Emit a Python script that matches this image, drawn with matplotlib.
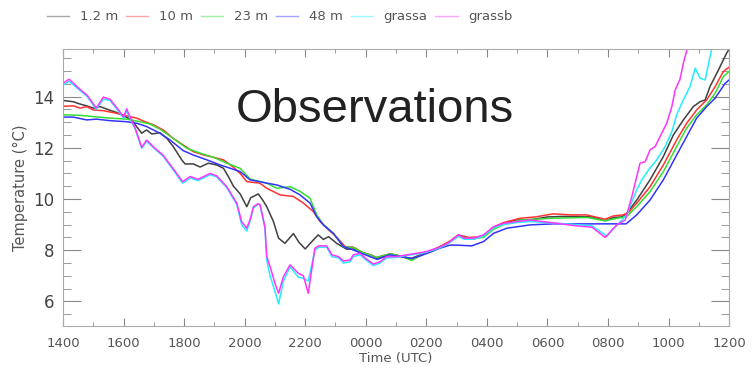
import matplotlib
matplotlib.use('Agg')
import matplotlib.pyplot as plt
from matplotlib.lines import Line2D
from matplotlib.ticker import MultipleLocator

# hours since 1400 UTC
t_12 = [0, 0.07, 0.34, 0.56, 0.78, 1.0, 1.22, 1.45, 1.77, 2.05, 2.27, 2.43, 2.6, 2.76, 2.93, 3.2,
        3.43, 3.64, 3.92, 4.03, 4.3, 4.53, 4.8, 5.08, 5.3, 5.46, 5.63, 5.85, 6.07, 6.2, 6.45, 6.6,
        6.73, 6.95, 7.12, 7.33, 7.61, 7.8, 8.0, 8.22, 8.43, 8.6, 8.77, 9.04, 9.37, 9.6, 9.92, 10.2,
        10.4, 10.6, 10.8, 11.1, 11.5, 11.8, 12.1, 12.45, 12.78, 13.06, 13.3, 13.6, 13.9, 14.2,
        14.55, 15.0, 15.5, 16.0, 16.5, 17.0, 17.5, 17.9, 18.2, 18.45, 18.62, 18.95, 19.39, 19.83,
        20.16, 20.49, 20.82, 21.04, 21.21, 21.37, 21.65, 21.92, 22.0]
T_12 = [13.85, 13.84, 13.8, 13.71, 13.64, 13.55, 13.61, 13.51, 13.38, 13.22, 13.09, 12.83, 12.57,
        12.7, 12.54, 12.59, 12.37, 12.05, 11.53, 11.37, 11.37, 11.25, 11.4, 11.33, 11.2, 10.88,
        10.5, 10.2, 9.7, 10.05, 10.2, 9.95, 9.7, 9.12, 8.47, 8.27, 8.65, 8.3, 8.05, 8.34, 8.6,
        8.42, 8.53, 8.27, 8.04, 8.05, 7.9, 7.8, 7.65, 7.75, 7.85, 7.78, 7.68, 7.82, 7.95, 8.14,
        8.34, 8.58, 8.47, 8.45, 8.55, 8.88, 9.05, 9.18, 9.2, 9.3, 9.32, 9.32, 9.3, 9.15, 9.28,
        9.3, 9.44, 9.96, 10.75, 11.66, 12.5, 13.09, 13.61, 13.8, 13.87, 14.39, 15.04, 15.7, 15.85]

t_10 = [0, 0.34, 0.56, 0.78, 1.0, 1.33, 1.77, 2.1, 2.43, 2.71, 2.98, 3.31, 3.64, 3.97, 4.3, 4.64,
        4.97, 5.3, 5.63, 5.85, 6.07, 6.5, 6.73, 7.17, 7.61, 7.94, 8.27, 8.49, 8.71, 9.04, 9.32,
        9.59, 9.92, 10.36, 10.8, 11.13, 11.52, 11.8, 12.12, 12.45, 12.78, 13.06, 13.4, 13.89,
        14.22, 14.55, 15.1, 15.6, 16.2, 16.8, 17.3, 17.9, 18.18, 18.51, 18.7, 18.95, 19.39,
        19.83, 20.27, 20.6, 20.93, 21.26, 21.54, 21.81, 22.0]
T_10 = [13.62, 13.64, 13.55, 13.61, 13.48, 13.45, 13.35, 13.25, 13.16, 13.02, 12.9, 12.7, 12.37,
        12.11, 11.85, 11.72, 11.63, 11.53, 11.24, 11.0, 10.68, 10.62, 10.42, 10.16, 10.1, 9.84,
        9.51, 9.12, 8.86, 8.51, 8.14, 8.12, 7.9, 7.72, 7.86, 7.78, 7.66, 7.8, 7.95, 8.14, 8.36,
        8.6, 8.5, 8.53, 8.9, 9.08, 9.25, 9.3, 9.42, 9.38, 9.38, 9.21, 9.34, 9.38, 9.5, 9.84,
        10.48, 11.33, 12.31, 12.96, 13.48, 13.87, 14.39, 14.98, 15.15]

t_23 = [0, 0.56, 1.0, 1.56, 2.1, 2.54, 2.87, 3.2, 3.64, 4.09, 4.53, 4.97, 5.41, 5.85, 6.18, 6.73,
        7.06, 7.5, 7.83, 8.16, 8.38, 8.6, 8.93, 9.26, 9.59, 9.92, 10.36, 10.8, 11.13, 11.52,
        11.8, 12.12, 12.45, 12.78, 13.06, 13.4, 13.89, 14.22, 14.55, 15.1, 16.2, 17.3, 17.9,
        18.3, 18.6, 18.95, 19.39, 19.83, 20.27, 20.6, 20.93, 21.26, 21.54, 21.81, 22.0]
T_23 = [13.29, 13.27, 13.22, 13.16, 13.12, 13.02, 12.93, 12.73, 12.37, 11.98, 11.79, 11.63, 11.4,
        11.2, 10.78, 10.62, 10.42, 10.48, 10.3, 10.03, 9.38, 9.0, 8.66, 8.14, 8.1, 7.9, 7.72,
        7.86, 7.78, 7.6, 7.78, 7.95, 8.12, 8.32, 8.55, 8.45, 8.5, 8.82, 9.0, 9.18, 9.25, 9.28,
        9.15, 9.25, 9.3, 9.7, 10.29, 11.07, 12.05, 12.77, 13.29, 13.68, 14.13, 14.78, 14.98]

t_48 = [0, 0.34, 0.78, 1.1, 1.56, 2.1, 2.43, 2.76, 3.2, 3.53, 3.97, 4.3, 4.75, 5.19, 5.63, 5.85,
        6.18, 6.73, 7.06, 7.5, 7.83, 8.16, 8.38, 8.6, 8.93, 9.26, 9.59, 9.92, 10.36, 10.8, 11.13,
        11.52, 11.8, 12.12, 12.45, 12.78, 13.0, 13.5, 13.89, 14.22, 14.66, 15.43, 16.2, 17.3,
        18.0, 18.6, 18.95, 19.39, 19.83, 20.27, 20.6, 20.93, 21.26, 21.54, 21.87, 22.0]
T_48 = [13.2, 13.2, 13.09, 13.12, 13.06, 13.02, 12.96, 12.83, 12.57, 12.31, 11.89, 11.72, 11.53,
        11.33, 11.16, 11.07, 10.75, 10.62, 10.55, 10.38, 10.16, 9.84, 9.31, 8.99, 8.66, 8.14,
        8.01, 7.85, 7.65, 7.82, 7.75, 7.68, 7.78, 7.92, 8.08, 8.2, 8.2, 8.17, 8.34, 8.66, 8.86,
        8.99, 9.03, 9.03, 9.03, 9.03, 9.38, 9.96, 10.75, 11.72, 12.44, 13.16, 13.61, 13.94,
        14.52, 14.65]

t_gb = [0, 0.2, 0.5, 0.8, 1.1, 1.33, 1.55, 1.85, 2.0, 2.1, 2.38, 2.6, 2.76, 3.04, 3.3, 3.63, 3.95,
        4.2, 4.46, 4.86, 5.08, 5.41, 5.74, 5.9, 6.07, 6.18, 6.29, 6.45, 6.51, 6.67, 6.73, 6.84,
        7.0, 7.12, 7.28, 7.5, 7.77, 7.94, 8.1, 8.32, 8.45, 8.71, 8.88, 9.1, 9.26, 9.48, 9.59,
        9.81, 10.03, 10.25, 10.47, 10.69, 11.02, 11.35, 11.68, 12.0, 12.35, 12.68, 13.06, 13.25,
        13.56, 13.89, 14.22, 14.55, 14.99, 15.43, 16.0, 16.97, 17.47, 17.91, 18.29, 18.57,
        18.79, 18.95, 19.06, 19.23, 19.39, 19.56, 19.72, 19.94, 20.11, 20.22, 20.38, 20.49,
        20.62, 20.8]
T_gb = [14.52, 14.68, 14.35, 14.05, 13.55, 13.98, 13.9, 13.45, 13.2, 13.52, 12.78, 12.02, 12.3,
        11.98, 11.72, 11.2, 10.68, 10.88, 10.77, 11.0, 10.9, 10.48, 9.84, 9.12, 8.86, 9.2, 9.7,
        9.82, 9.77, 8.92, 7.75, 7.36, 6.71, 6.32, 6.97, 7.43, 7.1, 7.0, 6.32, 8.08, 8.17, 8.17,
        7.82, 7.75, 7.58, 7.62, 7.82, 7.88, 7.65, 7.46, 7.55, 7.75, 7.75, 7.82, 7.88, 7.95, 8.08,
        8.25, 8.6, 8.47, 8.47, 8.6, 8.92, 9.05, 9.12, 9.18, 9.1, 8.95, 8.9, 8.5, 8.99, 9.18,
        10.1, 10.88, 11.4, 11.46, 11.92, 12.05, 12.44, 12.96, 13.61, 14.26, 14.68, 15.3, 15.89,
        16.5]

t_ga = [0, 0.2, 0.5, 0.8, 1.1, 1.33, 1.55, 1.85, 2.0, 2.1, 2.38, 2.6, 2.76, 3.04, 3.3, 3.63, 3.95,
        4.2, 4.46, 4.86, 5.08, 5.41, 5.74, 5.9, 6.07, 6.18, 6.29, 6.45, 6.51, 6.67, 6.73, 6.84,
        7.0, 7.12, 7.28, 7.5, 7.77, 7.94, 8.1, 8.32, 8.45, 8.71, 8.88, 9.1, 9.26, 9.48, 9.59,
        9.81, 10.03, 10.25, 10.47, 10.69, 11.02, 11.35, 11.68, 12.0, 12.35, 12.68, 13.06, 13.25,
        13.56, 13.89, 14.22, 14.55, 14.99, 15.43, 16.0, 16.97, 17.47, 17.97, 18.1, 18.62,
        18.95, 19.12, 19.34, 19.61, 19.89, 20.11, 20.27, 20.49, 20.71, 20.88, 21.04, 21.21,
        21.37, 21.5]
T_ga = [14.45, 14.6, 14.3, 14.0, 13.5, 13.9, 13.85, 13.4, 13.15, 13.45, 12.75, 11.98, 12.25,
        11.95, 11.68, 11.15, 10.62, 10.82, 10.72, 10.95, 10.86, 10.44, 9.78, 9.0, 8.75, 9.15,
        9.65, 9.8, 9.75, 8.85, 7.6, 7.0, 6.4, 5.9, 6.8, 7.35, 6.95, 6.9, 6.8, 8.0, 8.12, 8.12,
        7.75, 7.7, 7.5, 7.55, 7.75, 7.82, 7.6, 7.4, 7.5, 7.7, 7.72, 7.8, 7.85, 7.92, 8.05, 8.22,
        8.55, 8.43, 8.43, 8.55, 8.88, 9.0, 9.08, 9.12, 9.08, 9.0, 8.95, 8.55, 8.73, 9.38,
        10.36, 10.75, 11.14, 11.53, 12.05, 12.63, 13.29, 13.87, 14.39, 15.11, 14.72, 14.65,
        15.56, 16.2]

xtick_labels = ['1400', '1600', '1800', '2000', '2200', '0000', '0200', '0400', '0600', '0800',
                '1000', '1200']

series = [
    (t_12, T_12, '#404040', '1.2 m'),
    (t_10, T_10, '#ff3333', '10 m'),
    (t_23, T_23, '#33dd33', '23 m'),
    (t_48, T_48, '#3333ff', '48 m'),
    (t_ga, T_ga, '#22eeff', 'grassa'),
    (t_gb, T_gb, '#ff33ff', 'grassb'),
]

fig = plt.figure(figsize=(7.53, 3.74), dpi=100)
ax = fig.add_axes([0.0837, 0.1283, 0.8845, 0.7407])

handles = []
for t, T, c, lab in series:
    ax.plot(t, T, color=c, lw=1.1)
    handles.append(Line2D([], [], color=c, lw=1.0, alpha=0.45, label=lab))

ax.set_xlim(0, 22)
ax.set_ylim(5.04, 15.86)
ax.set_xticks(range(0, 23, 2))
ax.set_xticklabels(xtick_labels)
ax.xaxis.set_minor_locator(MultipleLocator(1))
ax.set_yticks([6, 8, 10, 12, 14])
ax.yaxis.set_minor_locator(MultipleLocator(0.5))

gray = '#888888'
for s in ax.spines.values():
    s.set_color('#aaaaaa')
ax.tick_params(axis='both', which='both', direction='in', color=gray, top=True, right=True)
ax.tick_params(axis='x', which='major', length=6, labelsize=9.5, labelcolor='#555555', pad=8)
ax.tick_params(axis='x', which='minor', length=3)
ax.tick_params(axis='y', which='major', length=13, labelsize=12, labelcolor='#444444', pad=6)
ax.tick_params(axis='y', which='minor', length=6)

ax.set_xlabel('Time (UTC)', fontsize=9.5, color='#555555', labelpad=1)
ax.set_ylabel('Temperature (\u00b0C)', fontsize=10.5, color='#555555', labelpad=4)

ax.text(0.468, 0.78, 'Observations', transform=ax.transAxes, ha='center', va='center',
        fontsize=34, color='#222222', family='Liberation Sans')

leg = fig.legend(handles=handles, loc='center left', bbox_to_anchor=(0.055, 0.955), ncol=6,
                 frameon=False, fontsize=9.5, handlelength=1.7, handletextpad=0.8,
                 columnspacing=0.6, borderaxespad=0)
for txt in leg.get_texts():
    txt.set_color('#555555')

fig.savefig('out.png', dpi=100)
